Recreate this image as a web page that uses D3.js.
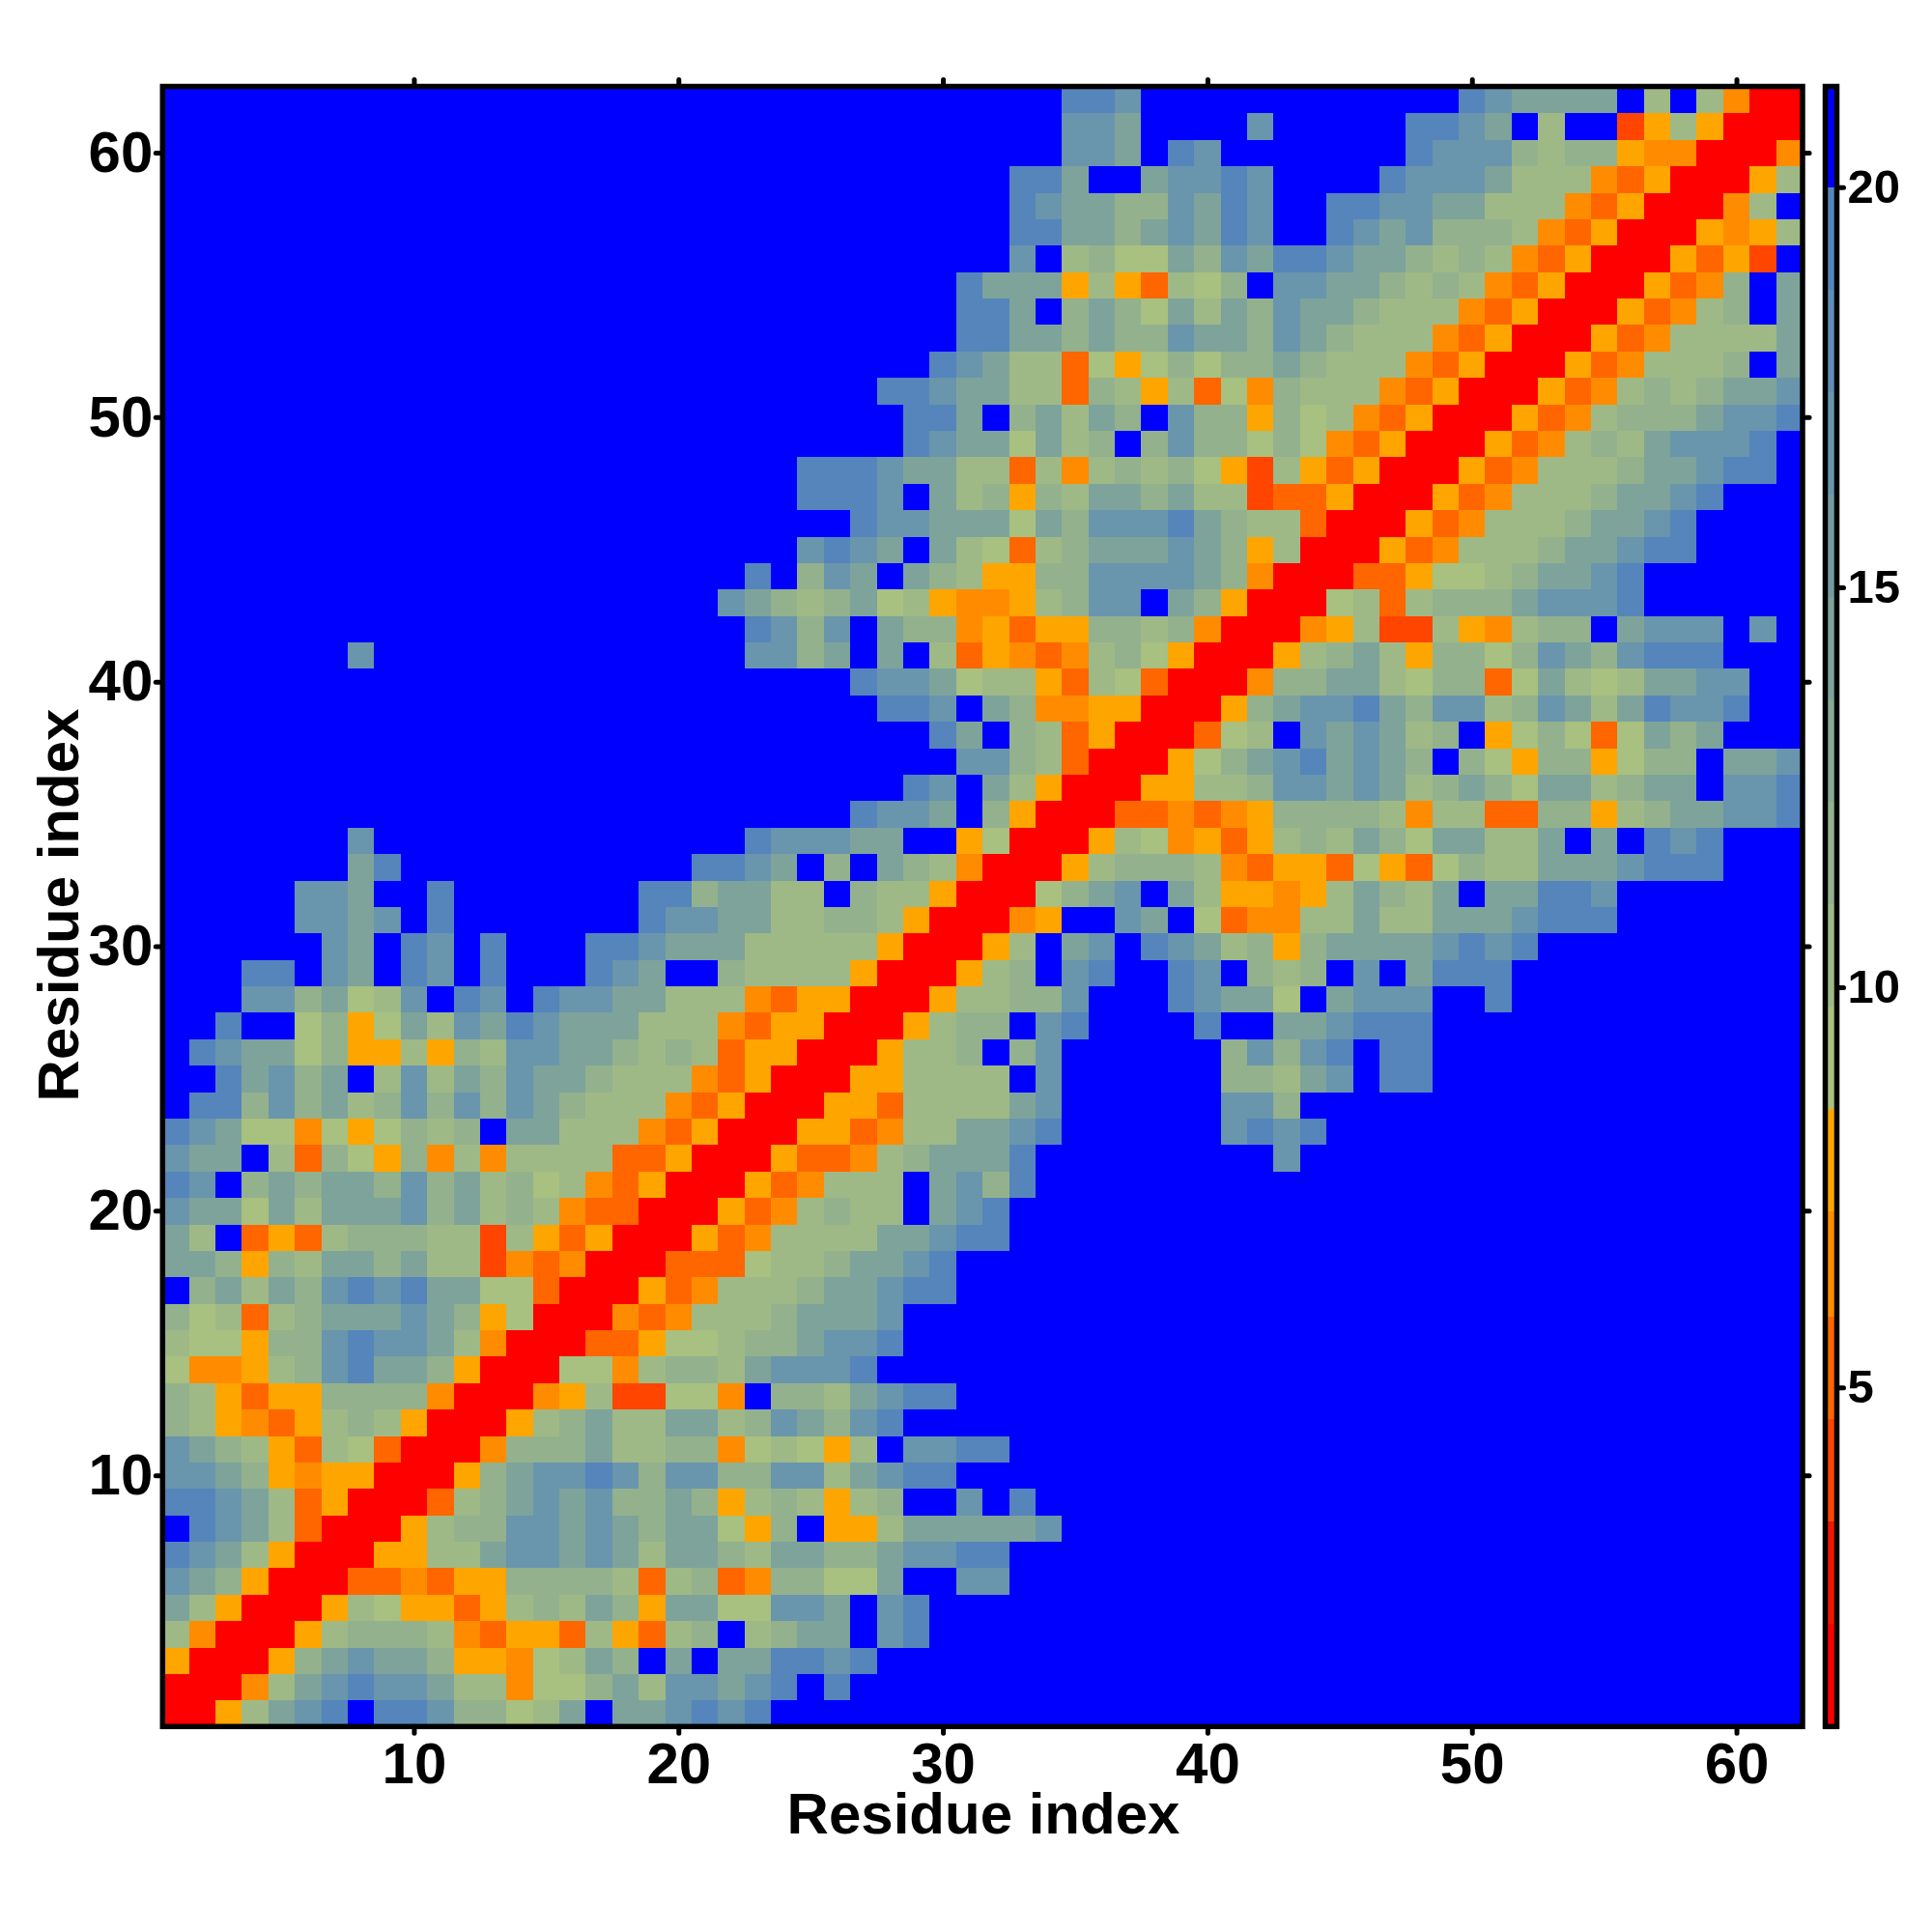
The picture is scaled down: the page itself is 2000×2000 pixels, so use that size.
<!DOCTYPE html>
<html>
<head>
<meta charset="utf-8">
<script src="https://cdn.jsdelivr.net/npm/d3@7"></script>
<style>
html,body{margin:0;padding:0;background:#fff}
svg{display:block}
text{font-family:"Liberation Sans",Arial,sans-serif;font-weight:bold;fill:#000}
</style>
</head>
<body>
<svg id="chart" width="2000" height="2000"></svg>
<script>
// Distance class per letter
const levelKeys   = ["R","E","D","C","A","g","h","i","j","k","l","B"];
const levelValues = [1.4,4.0,5.2,6.5,7.8,9.1,10.4,11.9,14.2,16.8,19.4,20.6];

// Colour bands of the colour key
const bandBreaks = [2.05,3.33,4.61,5.89,7.2,8.48,9.76,11.04,12.32,13.6,14.88,16.16,17.44,18.72,20];
const bandColors = ["#ff0000","#f21500","#ff4500","#ff6600","#ff8c00","#ffa500",
  "#a8c080","#9fb986","#93b18d","#88aa94","#7ea39b","#739ca2","#6995ad","#5f8db5","#5585bb","#0000ff"];
const keyRange = [0.76,21.26];
const keyTicks = [5,10,15,20];
const axisTicks = [10,20,30,40,50,60];

// First residue column of each row (row 1 first); cells outside a row's string are blue
const rowStart = [1,1,1,1,1,1,1,1,1,1,1,1,1,1,1,1,1,1,1,1,1,1,1,1,1,1,1,1,1,1,1,1,1,
  8,27,29,31,30,28,27,8,23,22,23,25,27,25,25,29,29,28,30,31,31,31,33,33,33,33,35,35,35];
const rowCells = [
"RRAhjklBllkiighjBjjklkl",
"RRRChjklkkjhhCggijhkkjklBl",
"ARRRAijkjjiAACghjiBjBjjllkl",
"hCRRRAhiiihCDAADhADhiBhijjBkl",
"jhARRRAhgAADAhihjiAjjggkkjBkl",
"kjiARRRDDCDAAiiiihDhiDCiiggjBBkk",
"lkjhARRRAAhhjkkjkjhjjihjjiijkkll",
"BlkjhDRRRAhiikkjkjijjgAiBAAhjjjjjk",
"llkjhDARRRDhijkjkiijiAhihAhiBBkBl",
"kkjiACAARRRAijkklkikkiikkhjkll",
"kjihADhgDRRRCiiijhhiiCghgAhBkkll",
"ihACDAhihARRRAhijhhjjhikjikl",
"ihADAAiiiiCRRRCAhEEggCBiihjkll",
"gCCAhikljjiARRRggChiihjkkkl",
"hggAiiklkkjhCRRRDDAgghiijkkl",
"ighDhijjjkjiAgRRRCDChhhijjjk",
"BijhjiklkljjggDRRRADChhhijjkll",
"jjiAihjjijhhECDCRRRDDDghhijjkl",
"jhBDADhiiihhEhADARRRADChhhhjjkll",
"kjjgjhjjjkijhihCDDRRRADChihhBjkl",
"lkBijijjikijhighCDARRRADChhhBjkil",
"kjjBhDigAiChChhhhDDARRRADDChijjjlBBBBBBBBBk",
"lkjggCgAgihiBjjhhhCDARRRAADChhjjklBBBBBBklkl",
"BllikijhikikikjihhhCDARRRAADhhhhjkBBBBBBkki",
"BBljkijBhkhjikjjihhhCDARRRAAhhhhBkBBBBBBiihjkBll",
"BlkjjgiAAhAihkkjjihihDAARRRAhhiBikBBBBBBikiklBll",
"BBlBBgiAgjhkjlkjjjhhhCDAARRRAhiiBklBBBBlBBjjklll",
"BBBkkijghkBlkBlkkjjhhhCDAARRRAhhiikBBBlkjjgBjkkkBBl",
"BBBllBkjBlkBlBBBlkjBBihhhhARRRAhiBklBBlkBihiBkBjlll",
"BBBBBBkjBlkBlBBBllkjjjhhhhhARRRAhBjkBlkjhiAijjjjklkl",
"BBBBBkkjkBlBBBBBBBlkkjjhhiihARRRCABBkjBgDCChhjhhjjjklll",
"BBBBBkkjBBlBBBBBBBllijjhhBihhARRRgijkBjhAACAhjihjBjjllk",
"BBBBBBBjlBBBBBBBBBBBllkjBiBjihCRRRAhiiihCDAADgADgihhjjjklll",
"kBBBBBBBBBBBBBBlkkkjjBBAgRRRAhgCADAhihjigjjhhjBjBlkl",
"lkkjBiARRRDDCDCAiiiihChhDDiiAhijjkkl",
"lkBjhARRRAAhhikkjkjhijigjjhijjBkkl",
"kkihDRRRAgijkljkjiBigAiiAgiiBjjk",
"ljBihDARRRDghBkjkjhiBAgigDgjij",
"llkBjiCCAARRRAijkkljikkhikjhjlkkl",
"lkkjghhADhgDRRRCiijjhgiiDgjhghjjkk",
"kBBBBBBBBBBBBBBkkijBjBhDACDChigARRRAhijhAiigikjiklll",
"lkikBjiiCADAAiihiCRRRCAhEEhAChiiBjkkkBk",
"kjihijghACCAhikkBjiARRRghDhiiijkkkl",
"lBikjBjihAAiikkkkjiCRRRDDAgghijjkl",
"klkjBjhgDhijjjkjiAhRRRADChhhijjkll",
"lkkjjjgjikkkljihhDRRRADChhhijjkl",
"lllkBjhiAihjjijhhEDDARRRADChhhijjkl",
"lllkjjhhDhChihigAEhADARRRADChhhijjkll",
"lkjjgjhiBikiigigCDARRRADChihjkkkl",
"lljBijhjiBkiiAighCDARRRADChiiijkkl",
"llkjjhhDihAhDgCihhhCDARRRADChihijjk",
"lkjhhDgAgigiijihhhCDARRRADChhhiBj",
"lljjijiikjjikjihhhCDARRRADChhhhj",
"lljBijigjhjikjjihhhCDARRRADChiBj",
"ljjjAhADhgiBkkjjihihCDARRRADCiBj",
"kBhiggjikjllkjjihihCDARRRADAEB",
"lljjijkjlkBBlkjkiiihCDARRRACAh",
"lkjjiikjlkBBllkkjjhhhCDARRRChB",
"lljBBjkklkBBBBlkkkjhhhCDARRRAh",
"kkjBlkBBBBBBBlkkkihiiACCRRRC",
"kkjBBBBkBBBBBllkjBhBBEAhARRR",
"llkBBBBBBBBBBBBlkjjjjBhBhCRR"
];

const N = 62;
const W = 2000, H = 2000;
const plot = {left:168.3,right:1866,top:89.5,bottom:1787.3};
const key  = {left:1889.5,right:1901.5};

const svg = d3.select("#chart");
const x = d3.scaleLinear().domain([0.5,N+0.5]).range([plot.left,plot.right]);
const y = d3.scaleLinear().domain([0.5,N+0.5]).range([plot.bottom,plot.top]);
const color = d3.scaleThreshold().domain(bandBreaks).range(bandColors);
const valueOf = d3.scaleOrdinal().domain(levelKeys).range(levelValues);

const cells = [];
for (let r=1;r<=N;r++){
  for (let c=1;c<=N;c++){
    const s = rowCells[r-1], k = c-rowStart[r-1];
    const ch = (k>=0 && k<s.length) ? s[k] : "B";
    cells.push({c,r,v:valueOf(ch)});
  }
}

svg.append("g").attr("shape-rendering","crispEdges")
  .selectAll("rect").data(cells).join("rect")
  .attr("x",d=>x(d.c-0.5)).attr("y",d=>y(d.r+0.5))
  .attr("width",d=>x(d.c+0.5)-x(d.c-0.5)+0.5)
  .attr("height",d=>y(d.r-0.5)-y(d.r+0.5)+0.5)
  .attr("fill",d=>color(d.v));

function styleAxis(g,size){
  g.select(".domain").remove();
  g.selectAll(".tick line").attr("stroke","#000").attr("stroke-width",5).attr("stroke-linecap","round");
  g.selectAll(".tick text").attr("font-size",size).attr("fill","#000");
}

// labelled bottom and left axes; tick marks repeated on top and right
svg.append("g").attr("transform",`translate(0,${plot.bottom})`)
  .call(d3.axisBottom(x).tickValues(axisTicks).tickSize(7).tickPadding(9).tickFormat(d3.format("d")))
  .call(g=>styleAxis(g,60));
svg.append("g").attr("transform",`translate(${plot.left},0)`)
  .call(d3.axisLeft(y).tickValues(axisTicks).tickSize(7).tickPadding(3).tickFormat(d3.format("d")))
  .call(g=>styleAxis(g,60));
svg.append("g").attr("transform",`translate(0,${plot.top})`)
  .call(d3.axisTop(x).tickValues(axisTicks).tickSize(7).tickFormat(""))
  .call(g=>styleAxis(g,60));
svg.append("g").attr("transform",`translate(${plot.right},0)`)
  .call(d3.axisRight(y).tickValues(axisTicks).tickSize(7).tickFormat(""))
  .call(g=>styleAxis(g,60));

svg.append("rect").attr("x",plot.left).attr("y",plot.top)
  .attr("width",plot.right-plot.left).attr("height",plot.bottom-plot.top)
  .attr("fill","none").attr("stroke","#000").attr("stroke-width",5.5);

svg.append("text").attr("x",1018).attr("y",1898).attr("text-anchor","middle")
  .attr("font-size",60).text("Residue index");
svg.append("text").attr("transform","translate(81,937) rotate(-90)").attr("text-anchor","middle")
  .attr("font-size",60).text("Residue index");

// colour key
const keyY = d3.scaleLinear().domain(keyRange).range([plot.bottom,plot.top]);
const edges = [keyRange[0],...bandBreaks,keyRange[1]];
svg.append("g").attr("shape-rendering","crispEdges")
  .selectAll("rect").data(d3.pairs(edges)).join("rect")
  .attr("x",key.left).attr("width",key.right-key.left)
  .attr("y",d=>keyY(d[1])).attr("height",d=>keyY(d[0])-keyY(d[1])+0.5)
  .attr("fill",d=>color((d[0]+d[1])/2));
svg.append("rect").attr("x",key.left).attr("y",plot.top)
  .attr("width",key.right-key.left).attr("height",plot.bottom-plot.top)
  .attr("fill","none").attr("stroke","#000").attr("stroke-width",5.5);
svg.append("g").attr("transform",`translate(${key.right},0)`)
  .call(d3.axisRight(keyY).tickValues(keyTicks).tickSize(7).tickPadding(4).tickFormat(d3.format("d")))
  .call(g=>styleAxis(g,49));
</script>
</body>
</html>
